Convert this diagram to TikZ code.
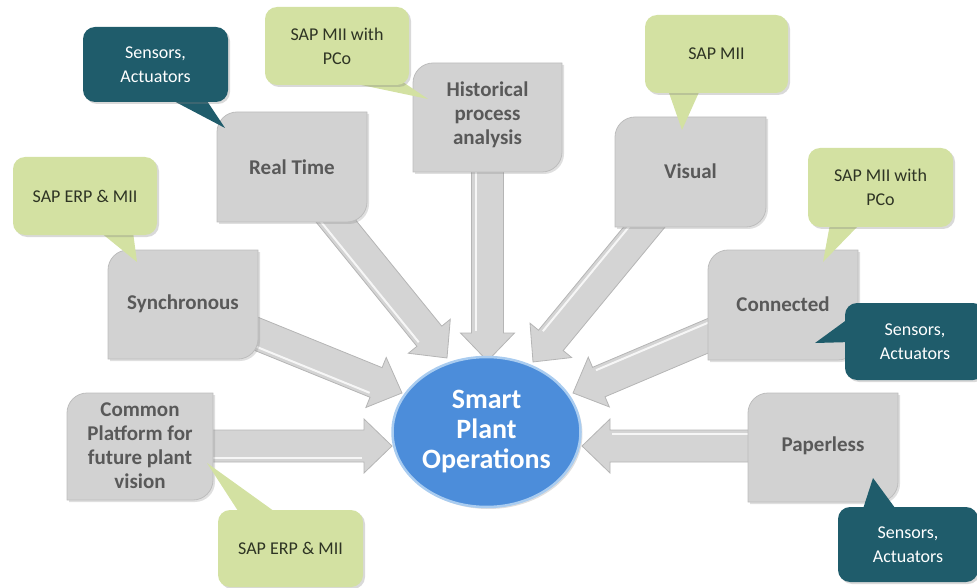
\documentclass[tikz,border=0pt]{standalone}
\usepackage{fontspec}
\setmainfont{Carlito}
\usetikzlibrary{calc,shadows,shapes.geometric}
\pgfdeclarelayer{bg}
\pgfsetlayers{bg,main}
\definecolor{boxgray}{HTML}{D2D2D2}
\definecolor{boxedge}{HTML}{BDBDBD}
\definecolor{boxtext}{HTML}{595959}
\definecolor{calgreen}{HTML}{D3E1A2}
\definecolor{calteal}{HTML}{1F5C6B}
\definecolor{greentext}{HTML}{2E3424}
\definecolor{ellblue}{HTML}{4C8DDA}
\definecolor{ellborder}{HTML}{A9CCF0}
\definecolor{arrfill}{HTML}{D4D4D4}
\definecolor{arredge}{HTML}{B5B5B5}

\newcommand\diagshape[4]{%
  \path[fill=boxgray, draw=boxedge, line width=0.8pt,
        drop shadow={opacity=0.25, shadow xshift=2pt, shadow yshift=-2pt}]
    (#1,#4) -- (#1,#2+20) .. controls (#1,#2+9) and (#1+9,#2) .. (#1+20,#2) -- (#3,#2)
    -- (#3,#4-20) .. controls (#3,#4-9) and (#3-9,#4) .. (#3-20,#4) -- cycle;}

\newcommand\blkarrow[2]{%
  \path let \p1=($(#2)-(#1)$) in \pgfextra{%
    \pgfmathsetmacro\blkangtmp{atan2(\y1,\x1)}%
    \pgfmathsetmacro\blklentmp{veclen(\x1,\y1)}%
    \xdef\blkang{\blkangtmp}\xdef\blklen{\blklentmp}};
  \begin{scope}[shift={(#1)},rotate=\blkang]
    \path[blockarrow] (0pt,-16pt) -- (\blklen pt-28pt,-16pt) -- (\blklen pt-28pt,-27pt)
      -- (\blklen pt,0pt) -- (\blklen pt-28pt,27pt) -- (\blklen pt-28pt,16pt)
      -- (0pt,16pt) -- cycle;
    \draw[white, line width=2pt, opacity=0.8] (0pt,-12pt) -- (\blklen pt-30pt,-12pt);
  \end{scope}}

\begin{document}
\begin{tikzpicture}[x=1pt,y=-1pt,
  boxlabel/.style={text=boxtext, align=center, font=\bfseries\fontsize{21}{24}\selectfont, inner sep=0pt},
  blockarrow/.style={fill=arrfill, draw=arredge, line width=0.8pt},
  greencall/.style={fill=calgreen, rounded corners=12pt, minimum width=144pt, minimum height=78pt,
     text=greentext, align=center, font=\fontsize{18}{24}\selectfont, inner sep=0pt,
     drop shadow={opacity=0.3, shadow xshift=2pt, shadow yshift=-2pt}},
  tealcall/.style={fill=calteal, rounded corners=12pt, minimum width=142pt, minimum height=76pt,
     text=white, align=center, font=\fontsize{18}{24}\selectfont, inner sep=0pt,
     drop shadow={opacity=0.3, shadow xshift=2pt, shadow yshift=-2pt}},
  greenptr/.style={fill=calgreen},
  tealptr/.style={fill=calteal},
  ellstyle/.style={ellipse, minimum width=188pt, minimum height=150pt, inner sep=0pt,
     fill=ellblue, draw=ellborder, line width=2.5pt, text=white, align=center,
     font=\bfseries\fontsize{28}{30}\selectfont,
     drop shadow={opacity=0.25, shadow xshift=2pt, shadow yshift=-2pt}}
]
\useasboundingbox (0,0) rectangle (977,588);
\clip (0,0) rectangle (977,588);

% gray boxes
\diagshape{217}{112}{367}{222}
\node[boxlabel] (rt) at (292,167) {Real Time};
\diagshape{413}{63}{562}{172}
\node[boxlabel] (hist) at (487.5,115) {Historical\\process\\analysis};
\diagshape{615}{117}{766}{227}
\node[boxlabel] (vis) at (690.5,171) {Visual};
\diagshape{708}{250}{858}{360}
\node[boxlabel] (con) at (783,304) {Connected};
\diagshape{108}{250}{258}{359}
\node[boxlabel] (syn) at (183,304) {Synchronous};
\diagshape{67}{393}{213}{500}
\node[boxlabel] (com) at (140,446) {Common\\Platform for\\future plant\\vision};
\diagshape{748}{393}{898}{502}
\node[boxlabel] (pap) at (823,446) {Paperless};

% centre ellipse
\node[ellstyle] (ell) at (486.5,432) {Smart\\Plant\\Operations};

% arrow tips
\coordinate (t-rt) at (447,358);
\coordinate (t-hist) at (487.5,361);
\coordinate (t-vis) at (533,362);
\coordinate (t-con) at (573,393);
\coordinate (t-syn) at (402,393);
\coordinate (t-com) at (392,446);
\coordinate (t-pap) at (582,446);

\begin{pgfonlayer}{bg}
\blkarrow{rt.center}{t-rt}
\blkarrow{hist.center}{t-hist}
\blkarrow{vis.center}{t-vis}
\blkarrow{con.center}{t-con}
\blkarrow{syn.center}{t-syn}
\blkarrow{com.center}{t-com}
\blkarrow{pap.center}{t-pap}
\end{pgfonlayer}

% callouts
\coordinate (p-sens1) at (225,128);
\fill[tealptr] (168,98) -- (p-sens1) -- (205,98) -- cycle;
\node[tealcall, minimum width=145pt, minimum height=75pt] (sens1) at (155.5,64.5) {Sensors,\\Actuators};

\coordinate (p-sap1) at (428,99);
\fill[greenptr] (347,82) -- (p-sap1) -- (400,80) -- cycle;
\node[greencall] (sap1) at (337,46) {SAP MII with\\PCo};

\coordinate (p-erp1) at (137,262);
\fill[greenptr] (100,232) -- (p-erp1) -- (133,232) -- cycle;
\node[greencall] (erp1) at (85,196) {SAP ERP \& MII};

\coordinate (p-mii) at (682,130);
\fill[greenptr] (668,90) -- (p-mii) -- (700,90) -- cycle;
\node[greencall, minimum width=143pt] (mii) at (716.5,54) {SAP MII};

\coordinate (p-sap2) at (823,262);
\fill[greenptr] (830,224) -- (p-sap2) -- (860,224) -- cycle;
\node[greencall, minimum width=145pt, minimum height=79pt] (sap2) at (880.5,187.5) {SAP MII with\\PCo};

\coordinate (p-sens2) at (815,343);
\fill[tealptr] (852,316) -- (p-sens2) -- (852,342) -- cycle;
\node[tealcall, minimum width=140pt, minimum height=77pt] (sens2) at (915,341.5) {Sensors,\\Actuators};

\coordinate (p-sens3) at (873,478);
\fill[tealptr] (862,512) -- (p-sens3) -- (898,512) -- cycle;
\node[tealcall, minimum width=140pt, minimum height=75pt] (sens3) at (908,544.5) {Sensors,\\Actuators};

\coordinate (p-erp2) at (207,463);
\fill[greenptr] (240,514) -- (p-erp2) -- (278,514) -- cycle;
\node[greencall, minimum width=145pt, minimum height=77pt] (erp2) at (290.5,548.5) {SAP ERP \& MII};
\end{tikzpicture}
\end{document}
